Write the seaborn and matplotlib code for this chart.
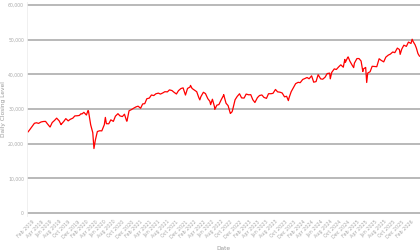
import matplotlib
matplotlib.use("Agg")
import matplotlib.pyplot as plt
import matplotlib.dates as mdates
import matplotlib.ticker as mticker
import numpy as np
import pandas as pd
import seaborn as sns

semi_start = "2019-01-01"
semi_end = "2026-02-15"
semi_values = [
    # 2019
    23300, 24065, 25064, 25883, 26026, 25849, 26258, 26384, 26430, 25648, 24815, 26090,
    26717, 27359, 26583, 25579, 26403, 27219, 26573, 27024, 27347, 28005, 28051, 28135,
    # 2020
    28538, 29030, 28256, 29398, 25409, 23185, 20943, 23504, 23724, 23685, 25475, 25763,
    25734, 26870, 26428, 27931, 28645, 27995, 27816, 28494, 26501, 29479, 29823, 30199,
    # 2021
    30606, 30814, 30212, 31458, 31535, 32953, 33153, 34035, 33874, 34382, 34575, 34299,
    34633, 34987, 34935, 35515, 35312, 34814, 34326, 35294, 35913, 36087, 34022, 35927,
    # 2022
    36338, 35911, 35405, 34988, 33294, 33544, 34818, 34451, 32977, 32196, 32813, 30668,
    31097, 31288, 32798, 33912, 31656, 30961, 28725, 29634, 32653, 33592, 34395, 33202,
    # 2023
    33147, 34302, 34092, 34128, 32661, 31874, 33274, 33886, 34051, 33348, 33061, 34408,
    34407, 34509, 35630, 34946, 34837, 34618, 33507, 33670, 33274, 34991, 36245, 37306,
    # 2024
    37690, 37593, 38520, 38773, 39087, 38715, 39567, 37735, 37903, 39908, 38686, 38589,
    39169, 40212, 40347, 40563, 41563, 41394, 42156, 42740, 42052, 43444, 44910, 43828,
    # 2025
    42544, 43221, 44544, 44546, 43840, 41488, 41989, 40368, 40752, 42322, 42270, 42197,
    44494, 44023, 43589, 44946, 45545, 45834, 46441, 46253, 47562, 47147, 47289, 48400,
    # 2026
    48063, 49300, 48900, 49500,
]

# Additional observations at notable turning points
extra_dates = [
    "2019-01-02", "2019-05-31", "2019-08-14", "2019-12-27", "2020-02-12", "2020-03-23",
    "2020-06-08", "2020-10-30", "2021-12-31", "2022-01-04", "2022-03-08", "2022-05-20",
    "2022-06-17", "2022-08-16", "2022-09-30", "2022-10-12", "2023-03-15", "2023-07-31",
    "2023-10-27", "2024-04-17", "2024-08-05", "2024-11-11", "2024-12-04", "2025-01-10",
    "2025-03-13", "2025-04-08", "2025-11-20", "2026-02-09", "2026-03-01", "2026-03-10",
    "2026-03-20", "2026-03-31",
]
extra_values = [
    23346, 24815, 25479, 28645, 29551, 18591,
    27572, 26501, 36338, 36800, 32632, 31261,
    29888, 34152, 28725, 29210, 31874, 35559,
    32417, 37753, 38703, 44293, 45014, 41938,
    40813, 37645, 45752, 50115, 48500, 47500,
    46000, 45200,
]

semi_dates = pd.date_range(semi_start, semi_end, freq="SMS")
df = pd.concat([
    pd.DataFrame({"Date": semi_dates, "Close": semi_values[:len(semi_dates)]}),
    pd.DataFrame({"Date": pd.to_datetime(extra_dates), "Close": extra_values}),
]).drop_duplicates("Date", keep="last").sort_values("Date")
df = df[df["Date"] >= pd.Timestamp("2019-01-02")]

y_ticks = [0, 10000, 20000, 30000, 40000, 50000, 60000]
tick_dates = pd.date_range("2019-02-01", "2026-02-01", freq="2MS")

sns.set_style("white")
plt.rcParams["font.family"] = ["DejaVu Sans"]

fig = plt.figure(figsize=(4.2, 2.52), dpi=100)
ax = fig.add_axes([0.064, 0.141, 0.936, 0.853])

sns.lineplot(data=df, x="Date", y="Close", ax=ax, color="#ff0000", linewidth=0.9)

ax.set_ylim(-1000, 61000)
ax.set_xlim(pd.Timestamp("2018-12-26"), pd.Timestamp("2026-04-03"))
ax.set_yticks(y_ticks)
ax.yaxis.set_major_formatter(mticker.FuncFormatter(lambda v, p: f"{int(v):,}"))
ax.set_xticks(tick_dates)
ax.xaxis.set_major_formatter(mdates.DateFormatter("%b %Y"))

ax.grid(axis="y", color="#a6a6a6", linewidth=1.1)
ax.grid(axis="x", visible=False)
for s in ["top", "right", "bottom"]:
    ax.spines[s].set_visible(False)
ax.spines["left"].set_color("#eeeeee")
ax.spines["left"].set_linewidth(0.6)

ax.tick_params(axis="y", labelsize=3.3, labelcolor="#aaaaaa", length=0, pad=2)
ax.tick_params(axis="x", labelsize=3.5, labelcolor="#aaaaaa", length=0, pad=2)
for lbl in ax.get_xticklabels():
    lbl.set_rotation(45)
    lbl.set_ha("right")
    lbl.set_rotation_mode("anchor")

ax.set_xlabel("Date", fontsize=4.2, color="#999999", labelpad=5)
ax.set_ylabel("Daily Closing Level", fontsize=4.2, color="#999999")
ax.yaxis.set_label_coords(-0.052, 0.5)

fig.savefig("out.png", dpi=100)
